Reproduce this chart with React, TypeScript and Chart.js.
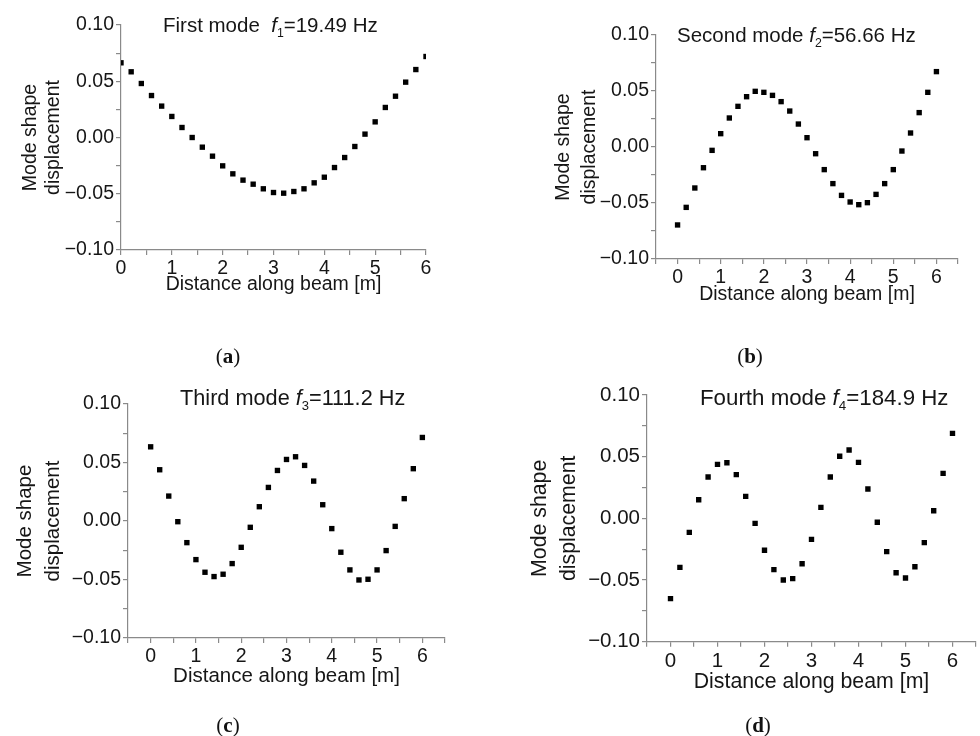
import React, { useEffect, useRef } from "react";
import { Chart, registerables } from "chart.js";

Chart.register(...registerables);

// Measurement stations along the beam [m]
const distance = [
  0, 0.2, 0.4, 0.6, 0.8, 1, 1.2, 1.4, 1.6, 1.8, 2, 2.2, 2.4, 2.6, 2.8, 3,
  3.2, 3.4, 3.6, 3.8, 4, 4.2, 4.4, 4.6, 4.8, 5, 5.2, 5.4, 5.6, 5.8, 6,
];

// Mode shape displacements at each station
const mode1 = [
  0.0664, 0.0584, 0.048, 0.0373, 0.0279, 0.0187, 0.0089, 0.0, -0.0086,
  -0.0166, -0.0252, -0.0323, -0.0379, -0.0415, -0.0456, -0.0489, -0.0495,
  -0.048, -0.0456, -0.0403, -0.0353, -0.0267, -0.0178, -0.008, 0.003, 0.0139,
  0.0267, 0.0367, 0.0492, 0.0604, 0.072,
];
const mode2 = [
  -0.0696, -0.0539, -0.0366, -0.0185, -0.003, 0.0119, 0.0259, 0.0363, 0.0449,
  0.0497, 0.0488, 0.0461, 0.0405, 0.0321, 0.0205, 0.0083, -0.006, -0.0202,
  -0.0327, -0.0432, -0.0491, -0.0515, -0.0497, -0.0423, -0.0327, -0.0202,
  -0.0036, 0.0125, 0.0307, 0.0488, 0.0673,
];
const mode3 = [
  0.0634, 0.0438, 0.0213, -0.0006, -0.0185, -0.033, -0.0438, -0.0475, -0.0455,
  -0.0364, -0.0225, -0.0054, 0.0122, 0.0287, 0.0432, 0.0526, 0.0549, 0.0475,
  0.0341, 0.0139, -0.0065, -0.0267, -0.0418, -0.0504, -0.0498, -0.0418,
  -0.0253, -0.0046, 0.0191, 0.0447, 0.0714,
];
const mode4 = [
  -0.0651, -0.0397, -0.0114, 0.0151, 0.0335, 0.0438, 0.0451, 0.0354, 0.0178,
  -0.0041, -0.0259, -0.0416, -0.05, -0.0489, -0.0368, -0.017, 0.0089, 0.0335,
  0.0503, 0.0554, 0.0454, 0.0238, -0.0032, -0.027, -0.0441, -0.0484, -0.0392,
  -0.0197, 0.0062, 0.0365, 0.0689,
];

// Axis ranges and tick steps
const yRange = [-0.1, 0.1];
const yStep = 0.025;
const yLabelStep = 0.05;
const xStep = 0.5;

const FONT = '"Liberation Sans", Arial, Helvetica, sans-serif';
const TEXT = "#161616";
const AXIS = "#8a8a8a";

type PanelSpec = {
  values: number[];
  name: string;
  sub: string;
  freq: string;
  letter: string;
  xMin: number;
  xMax: number;
  left: number;
  top: number;
  pad: { left: number; right: number; top: number; bottom: number };
  yWidth: number;
  xHeight: number;
  yTitleLine: number;
  tickFs: number;
  titleFs: number;
  headFs: number;
  titleX: number;
  titleY: number;
  labelX: number;
  labelY: number;
};

const panels: PanelSpec[] = [
  {
    values: mode1, name: "First mode  ", sub: "1", freq: "=19.49 Hz", letter: "a",
    xMin: 0, xMax: 6, left: 0, top: 0,
    pad: { left: 15, right: 64, top: 25, bottom: 68 }, yWidth: 106, xHeight: 50,
    yTitleLine: 1.2, tickFs: 19.5, titleFs: 19.5, headFs: 20.5,
    titleX: 163, titleY: 32, labelX: 228, labelY: 356,
  },
  {
    values: mode2, name: "Second mode ", sub: "2", freq: "=56.66 Hz", letter: "b",
    xMin: -0.5, xMax: 6.5, left: 490, top: 0,
    pad: { left: 57, right: 22, top: 35, bottom: 58 }, yWidth: 109, xHeight: 51,
    yTitleLine: 1.33, tickFs: 19.5, titleFs: 19.5, headFs: 20.5,
    titleX: 187, titleY: 42, labelX: 750, labelY: 356,
  },
  {
    values: mode3, name: "Third mode ", sub: "3", freq: "=111.2 Hz", letter: "c",
    xMin: -0.5, xMax: 6.5, left: 0, top: 368,
    pad: { left: 7, right: 45, top: 36, bottom: 43 }, yWidth: 121, xHeight: 55,
    yTitleLine: 1.37, tickFs: 19.5, titleFs: 20.5, headFs: 21.7,
    titleX: 180, titleY: 37, labelX: 228, labelY: 725,
  },
  {
    values: mode4, name: "Fourth mode ", sub: "4", freq: "=184.9 Hz", letter: "d",
    xMin: -0.5, xMax: 6.5, left: 490, top: 368,
    pad: { left: 32, right: 1, top: 27, bottom: 37.5 }, yWidth: 125, xHeight: 56.8,
    yTitleLine: 1.36, tickFs: 20.5, titleFs: 21.3, headFs: 22.3,
    titleX: 210, titleY: 37, labelX: 758, labelY: 725,
  },
];

const W = 490;
const H = 368;

function isMultiple(v: number, step: number) {
  return Math.abs(Math.round(v / step) * step - v) < 1e-9;
}

function fmtY(v: number) {
  const s = Math.abs(v).toFixed(2);
  return v < -1e-9 ? "\u2212" + s : s;
}

function Panel({ spec }: { spec: PanelSpec }) {
  const ref = useRef<HTMLCanvasElement | null>(null);

  useEffect(() => {
    if (!ref.current) return;

    // Plot heading with italic frequency symbol and subscript mode number
    const headingPlugin = {
      id: "modeHeading",
      afterDraw(chart: any) {
        const ctx = chart.ctx;
        const fs = spec.headFs;
        ctx.save();
        ctx.fillStyle = TEXT;
        ctx.textBaseline = "alphabetic";
        ctx.textAlign = "left";
        let x = spec.titleX;
        const y = spec.titleY;
        ctx.font = `${fs}px ${FONT}`;
        ctx.fillText(spec.name, x, y);
        x += ctx.measureText(spec.name).width;
        ctx.font = `italic ${fs}px ${FONT}`;
        ctx.fillText("f", x, y);
        x += ctx.measureText("f").width;
        ctx.font = `${fs * 0.6}px ${FONT}`;
        ctx.fillText(spec.sub, x, y + 5);
        x += ctx.measureText(spec.sub).width;
        ctx.font = `${fs}px ${FONT}`;
        ctx.fillText(spec.freq, x, y);
        ctx.restore();
      },
    };

    const axisGrid = {
      drawOnChartArea: false,
      drawTicks: true,
      tickLength: 5,
      color: AXIS,
      tickColor: AXIS,
      lineWidth: 1.2,
    };

    const chart = new Chart(ref.current, {
      type: "scatter",
      data: {
        datasets: [
          {
            data: distance.map((d, i) => ({ x: d, y: spec.values[i] })),
            pointStyle: "rect",
            pointRadius: 3.8,
            pointBorderWidth: 0,
            backgroundColor: "#000000",
            borderColor: "#000000",
          },
        ],
      },
      options: {
        animation: false,
        responsive: false,
        devicePixelRatio: 1,
        layout: { padding: spec.pad },
        plugins: {
          legend: { display: false },
          tooltip: { enabled: false },
        },
        scales: {
          x: {
            type: "linear",
            min: spec.xMin,
            max: spec.xMax,
            afterFit: (s: any) => {
              s.height = spec.xHeight;
            },
            border: { display: true, color: AXIS, width: 1.2 },
            grid: axisGrid,
            ticks: {
              stepSize: xStep,
              autoSkip: false,
              maxRotation: 0,
              padding: 2,
              color: TEXT,
              font: { family: FONT, size: spec.tickFs },
              callback: (v: any) => (isMultiple(Number(v), 1) ? String(Math.round(Number(v))) : ""),
            },
            title: {
              display: true,
              text: "Distance along beam [m]",
              color: TEXT,
              font: { family: FONT, size: spec.titleFs },
              padding: { top: 4, bottom: 4 },
            },
          },
          y: {
            type: "linear",
            min: yRange[0],
            max: yRange[1],
            afterFit: (s: any) => {
              s.width = spec.yWidth;
            },
            border: { display: true, color: AXIS, width: 1.2 },
            grid: axisGrid,
            ticks: {
              stepSize: yStep,
              autoSkip: false,
              padding: 2,
              color: TEXT,
              font: { family: FONT, size: spec.tickFs },
              callback: (v: any) => (isMultiple(Number(v), yLabelStep) ? fmtY(Number(v)) : ""),
            },
            title: {
              display: true,
              text: ["Mode shape", "displacement"],
              color: TEXT,
              font: { family: FONT, size: spec.titleFs, lineHeight: spec.yTitleLine },
              padding: { top: 4, bottom: 4 },
            },
          },
        },
      },
      plugins: [headingPlugin],
    } as any);

    return () => chart.destroy();
  }, [spec]);

  return (
    <>
      <canvas
        ref={ref}
        width={W}
        height={H}
        style={{ position: "absolute", left: spec.left, top: spec.top, width: W, height: H }}
      />
      <div
        style={{
          position: "absolute",
          left: spec.labelX - 40,
          top: spec.labelY - 14,
          width: 80,
          textAlign: "center",
          fontFamily: '"Liberation Serif", "DejaVu Serif", serif',
          fontSize: 21,
          lineHeight: "28px",
          color: "#111",
        }}
      >
        (<b>{spec.letter}</b>)
      </div>
    </>
  );
}

export default function App() {
  return (
    <div
      style={{
        position: "absolute",
        left: 0,
        top: 0,
        width: 980,
        height: 736,
        background: "#ffffff",
        overflow: "hidden",
      }}
    >
      {panels.map((p) => (
        <Panel key={p.letter} spec={p} />
      ))}
    </div>
  );
}
